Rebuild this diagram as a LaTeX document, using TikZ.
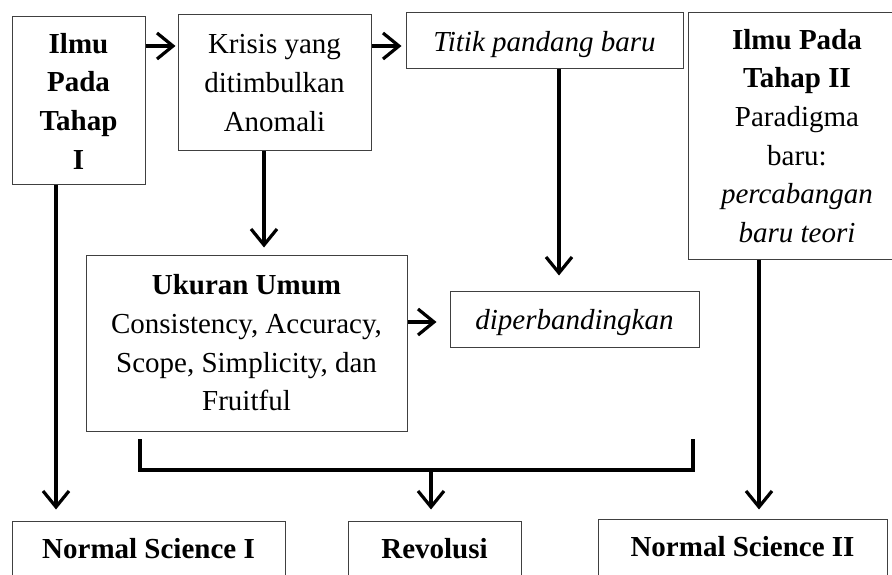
\documentclass[tikz,border=0pt]{standalone}
\usepackage{fontspec}
\setmainfont{Liberation Serif}
\usetikzlibrary{arrows.meta, positioning}
\newcommand{\diagfont}{\fontsize{29}{38.7}\selectfont}

\begin{document}
\begin{tikzpicture}[x=1pt, y=-1pt,
  box/.style={rectangle, draw=black!75, line width=1pt, inner sep=0pt,
              align=center, font=\diagfont},
  arr/.style={-{Straight Barb[length=16pt, width=26pt]}, line width=3.2pt},
  bracket/.style={line width=3.2pt}
]
\useasboundingbox (0,0) rectangle (892,575);

% baris atas
\node[box, minimum width=133pt, minimum height=168pt] (ilmusatu) at (78.5,101)
  {\textbf{Ilmu}\\\textbf{Pada}\\\textbf{Tahap}\\\textbf{I}};
\node[box, minimum width=193pt, minimum height=136pt] (krisis) at (274.5,83)
  {Krisis yang\\ditimbulkan\\Anomali};
\node[box, minimum width=277pt, minimum height=56pt, text depth=0pt] (titik) at (544.5,41)
  {\textit{Titik pandang baru}};
\node[box, minimum width=218pt, minimum height=246pt] (ilmudua) at (797,136)
  {\textbf{Ilmu Pada}\\\textbf{Tahap II}\\Paradigma\\baru:\\\textit{percabangan}\\\textit{baru teori}};

% baris tengah
\node[box, minimum width=321pt, minimum height=176pt] (ukuran) at (246.5,343)
  {\textbf{Ukuran Umum}\\Consistency, Accuracy,\\Scope, Simplicity, dan\\Fruitful};
\node[box, minimum width=249pt, minimum height=56pt, text depth=0pt] (diper) at (574.5,319)
  {\textit{diperbandingkan}};

% baris bawah
\node[box, minimum width=273pt, minimum height=60pt, text depth=6pt] (nssatu) at (148.5,551)
  {\textbf{Normal Science I}};
\node[box, minimum width=173pt, minimum height=60pt, text depth=6pt] (revolusi) at (434.5,551)
  {\textbf{Revolusi}};
\node[box, minimum width=289pt, minimum height=60pt, text depth=6pt] (nsdua) at (742.5,549)
  {\textbf{Normal Science II}};

% panah
\draw[arr, shorten >=2pt] (ilmusatu.east |- 0,46) -- (krisis.west |- 0,46);
\draw[arr, shorten >=4pt] (krisis.east |- 0,46) -- (titik.west |- 0,46);
\draw[arr, shorten >=7pt] (krisis.south -| 264,0) -- (ukuran.north -| 264,0);
\draw[arr, shorten >=15pt] (titik.south -| 559,0) -- (diper.north -| 559,0);
\draw[arr, shorten >=13pt] (ukuran.east |- 0,322) -- (diper.west |- 0,322);
\draw[arr, shorten >=11pt] (ilmusatu.south -| 56,0) -- (nssatu.north -| 56,0);
\draw[arr, shorten >=9pt] (ilmudua.south -| 759,0) -- (nsdua.north -| 759,0);

% kurung ke revolusi
\coordinate (kiri) at (140,439);
\coordinate (kanan) at (693,439);
\coordinate (tengah) at (431,470);
\draw[bracket] (kiri) |- (tengah) -| (kanan);
\draw[arr, shorten >=11pt] (tengah) -- (tengah |- revolusi.north);
\end{tikzpicture}
\end{document}
